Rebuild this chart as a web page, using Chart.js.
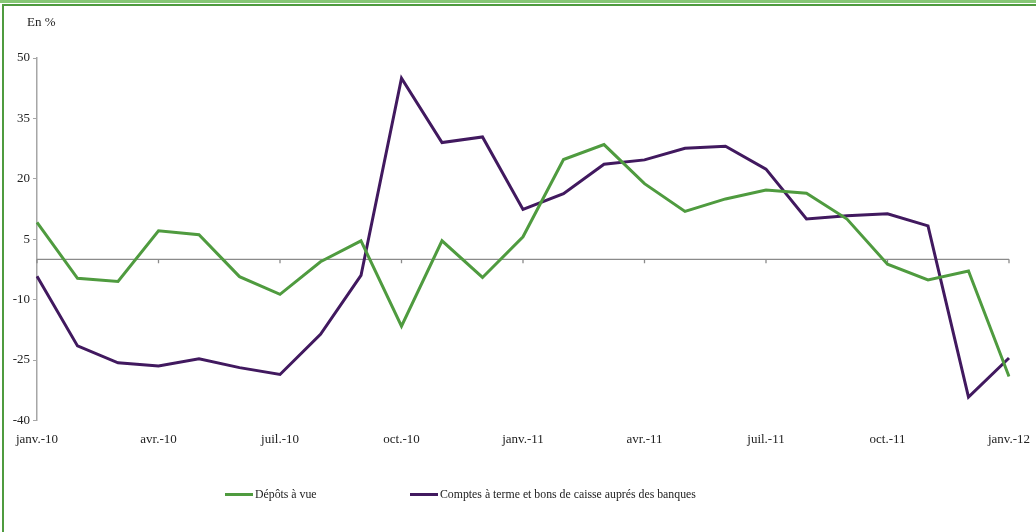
<!DOCTYPE html>
<html>
<head>
<meta charset="utf-8">
<script src="https://cdn.jsdelivr.net/npm/chart.js@4.4.0/dist/chart.umd.min.js"></script>
<style>
  html, body { margin: 0; padding: 0; background: #fff; }
  body { width: 1036px; height: 532px; position: relative; overflow: hidden; font-family: "Liberation Serif", serif; }
  #wrap { position: absolute; left: 0; top: 0; width: 1036px; height: 532px; }
  .band { position: absolute; left: 0; top: 0; width: 1036px; height: 3px; background: #86c775; }
  .topline { position: absolute; left: 2px; top: 4px; width: 1034px; height: 2px; background: #4f9b3f; }
  .leftline { position: absolute; left: 2px; top: 4px; width: 2px; height: 528px; background: #4f9b3f; }
  #unit { position: absolute; left: 27px; top: 14px; font-size: 13px; color: #222; }
  #legend { position: absolute; top: 485px; left: 0; width: 1036px; height: 20px; font-size: 11.8px; color: #222; }
  .item { position: absolute; top: 0; display: flex; align-items: center; height: 18px; }
  .swatch { width: 28px; height: 3px; margin-right: 2px; }
</style>
</head>
<body>
<div id="wrap"><canvas id="chart" width="1036" height="532"></canvas></div>
<div class="band"></div>
<div class="topline"></div>
<div class="leftline"></div>
<div id="unit">En %</div>
<div id="legend"></div>
<script>
const months = ["janv.-10","févr.-10","mars-10","avr.-10","mai-10","juin-10","juil.-10","août-10","sept.-10","oct.-10","nov.-10","déc.-10",
  "janv.-11","févr.-11","mars-11","avr.-11","mai-11","juin-11","juil.-11","août-11","sept.-11","oct.-11","nov.-11","déc.-11","janv.-12"];

const depotsVue = [9.2, -4.7, -5.5, 7.1, 6.1, -4.3, -8.7, -0.6, 4.6, -16.6, 4.6, -4.5,
  5.6, 24.8, 28.5, 18.8, 11.9, 15.0, 17.2, 16.4, 10.0, -1.2, -5.1, -2.9, -29.1];

const comptesTerme = [-4.2, -21.5, -25.7, -26.5, -24.7, -26.9, -28.6, -18.6, -4.0, 45.0, 29.0, 30.4,
  12.4, 16.3, 23.6, 24.7, 27.6, 28.1, 22.4, 10.0, 10.8, 11.3, 8.3, -34.2, -24.5];

const seriesLabels = ["Dépôts à vue", "Comptes à terme et bons de caisse auprés des banques"];
const seriesColors = ["#4f9b3f", "#41195f"];
const legendLeft = [225, 410];

const yMin = -40, yMax = 50, yStep = 15;

// zero line + quarterly tick marks on it
const zeroLine = {
  id: 'zeroLine',
  beforeDatasetsDraw(chart) {
    const ctx = chart.ctx, xs = chart.scales.x, ys = chart.scales.y;
    const y0 = ys.getPixelForValue(0);
    ctx.save();
    ctx.strokeStyle = '#8a8a8a';
    ctx.lineWidth = 1.3;
    ctx.beginPath();
    ctx.moveTo(chart.chartArea.left, y0);
    ctx.lineTo(chart.chartArea.right, y0);
    for (let i = 0; i < months.length; i += 3) {
      const x = xs.getPixelForValue(i);
      ctx.moveTo(x, y0);
      ctx.lineTo(x, y0 + 4);
    }
    ctx.stroke();
    ctx.restore();
  }
};

const ctx = document.getElementById('chart');
new Chart(ctx, {
  type: 'line',
  data: {
    labels: months,
    datasets: [{
      label: seriesLabels[0],
      data: depotsVue,
      borderColor: seriesColors[0],
      borderWidth: 3,
      pointRadius: 0,
      tension: 0
    }, {
      label: seriesLabels[1],
      data: comptesTerme,
      borderColor: seriesColors[1],
      borderWidth: 3,
      pointRadius: 0,
      tension: 0
    }]
  },
  options: {
    responsive: false,
    animation: false,
    layout: { autoPadding: false, padding: { top: 58, right: 27, bottom: 85, left: 0 } },
    plugins: { legend: { display: false }, tooltip: { enabled: false } },
    scales: {
      x: {
        offset: false,
        // invisible tick marks push the labels down without adding side padding
        grid: { display: true, drawOnChartArea: false, drawTicks: true, tickLength: 11, color: 'rgba(0,0,0,0)' },
        border: { display: false },
        ticks: {
          autoSkip: false,
          maxRotation: 0,
          padding: 0,
          color: '#222',
          font: { family: 'Liberation Serif', size: 13 },
          callback: function(val, idx) { return idx % 3 === 0 ? months[idx] : ''; }
        }
      },
      y: {
        min: yMin,
        max: yMax,
        afterFit(scale) { scale.width = 37; },
        grid: { drawOnChartArea: false, drawTicks: true, tickLength: 4, color: '#a6a6a6' },
        border: { color: '#a6a6a6', width: 1.5 },
        ticks: {
          stepSize: yStep,
          padding: 3,
          color: '#222',
          font: { family: 'Liberation Serif', size: 13 }
        }
      }
    }
  },
  plugins: [zeroLine]
});

const legend = document.getElementById('legend');
seriesLabels.forEach((lab, i) => {
  const item = document.createElement('div');
  item.className = 'item';
  item.style.left = legendLeft[i] + 'px';
  const sw = document.createElement('span');
  sw.className = 'swatch';
  sw.style.background = seriesColors[i];
  const tx = document.createElement('span');
  tx.textContent = lab;
  item.appendChild(sw);
  item.appendChild(tx);
  legend.appendChild(item);
});
</script>
</body>
</html>
